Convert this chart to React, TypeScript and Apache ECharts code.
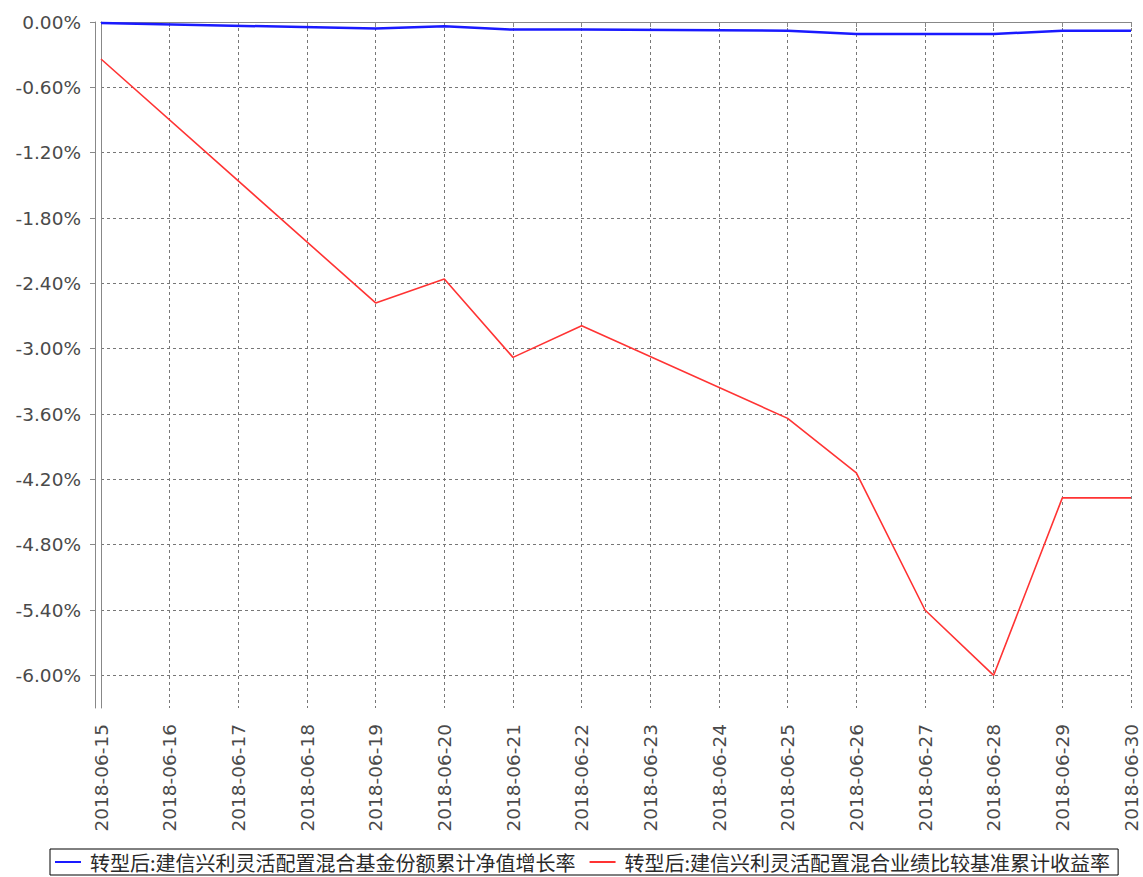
import React, { useEffect, useRef } from "react";
import * as echarts from "echarts";

const categories = [
  "2018-06-15", "2018-06-16", "2018-06-17", "2018-06-18", "2018-06-19", "2018-06-20",
  "2018-06-21", "2018-06-22", "2018-06-23", "2018-06-24", "2018-06-25", "2018-06-26",
  "2018-06-27", "2018-06-28", "2018-06-29", "2018-06-30",
];

const fundName = "转型后:建信兴利灵活配置混合基金份额累计净值增长率";
const benchName = "转型后:建信兴利灵活配置混合业绩比较基准累计收益率";

const fundValues = [
  -0.01, null, null, null, -0.06, -0.04, -0.07, -0.07, null, null, -0.08, -0.11,
  -0.11, -0.11, -0.08, -0.08,
];

const benchValues = [
  -0.34, null, null, null, -2.58, -2.36, -3.08, -2.79, null, null, -3.64, -4.14,
  -5.4, -6.0, -4.37, -4.37,
];

const yTicks = [0, -0.6, -1.2, -1.8, -2.4, -3.0, -3.6, -4.2, -4.8, -5.4, -6.0];
const yMin = -6.3;
const yMax = 0;

export default function App() {
  const ref = useRef<HTMLDivElement>(null);

  useEffect(() => {
    if (!ref.current) return;
    const chart = echarts.init(ref.current, null, { renderer: "svg" });
    const labelFont = {
      fontFamily: "DejaVu Sans",
      fontSize: 18.5,
      color: "#4a4a4a",
    };
    chart.setOption({
      animation: false,
      backgroundColor: "#ffffff",
      grid: { left: 101, top: 22, right: 12, bottom: 169, containLabel: false },
      legend: {
        left: 50,
        top: 849,
        padding: [3, 8, 3, 5],
        itemGap: 14,
        itemWidth: 26,
        itemHeight: 2,
        icon: "rect",
        borderColor: "#000000",
        borderWidth: 1,
        textStyle: {
          fontFamily: "Noto Sans CJK SC",
          fontSize: 20,
          color: "#2a2a2a",
          padding: [0, 0, 0, 4],
        },
        data: [fundName, benchName],
      },
      xAxis: [
        {
          type: "category",
          data: categories,
          boundaryGap: false,
          position: "bottom",
          offset: 6,
          axisLine: { show: true, lineStyle: { color: "#888888", width: 1 } },
          axisTick: { show: true, length: 5, alignWithLabel: true, lineStyle: { color: "#888888" } },
          axisLabel: { ...labelFont, rotate: 90, margin: 10, interval: 0 },
          splitLine: {
            show: true,
            lineStyle: { color: "#777777", type: [3, 3], width: 1 },
          },
        },
        {
          type: "category",
          data: categories,
          boundaryGap: false,
          position: "bottom",
          offset: 0,
          axisLine: { show: true, lineStyle: { color: "#888888", width: 1 } },
          axisTick: { show: false },
          axisLabel: { show: false },
          splitLine: { show: false },
        },
      ],
      yAxis: [
        {
          type: "value",
          min: yMin,
          max: yMax,
          position: "left",
          offset: 6,
          axisLine: { show: true, lineStyle: { color: "#888888", width: 1 } },
          axisTick: { show: true, length: 5, customValues: yTicks, lineStyle: { color: "#888888" } },
          axisLabel: {
            ...labelFont,
            margin: 14,
            customValues: yTicks,
            formatter: (v: number) => v.toFixed(2) + "%",
          },
          splitLine: {
            show: true,
            lineStyle: { color: "#777777", type: [3, 3], width: 1 },
          },
        },
        {
          type: "value",
          min: yMin,
          max: yMax,
          position: "left",
          offset: 0,
          axisLine: { show: true, lineStyle: { color: "#888888", width: 1 } },
          axisTick: { show: false },
          axisLabel: { show: false },
          splitLine: { show: false },
        },
      ],
      series: [
        {
          name: fundName,
          type: "line",
          xAxisIndex: 0,
          yAxisIndex: 0,
          data: fundValues,
          connectNulls: true,
          showSymbol: false,
          symbol: "none",
          lineStyle: { color: "#1a1aff", width: 2.5 },
          itemStyle: { color: "#1a1aff" },
          z: 3,
        },
        {
          name: benchName,
          type: "line",
          xAxisIndex: 0,
          yAxisIndex: 0,
          data: benchValues,
          connectNulls: true,
          showSymbol: false,
          symbol: "none",
          lineStyle: { color: "#ff3333", width: 1.6 },
          itemStyle: { color: "#ff3333" },
          z: 2,
        },
      ],
    });
    return () => chart.dispose();
  }, []);

  return <div ref={ref} style={{ width: 1143, height: 877, position: "absolute", left: 0, top: 0 }} />;
}
